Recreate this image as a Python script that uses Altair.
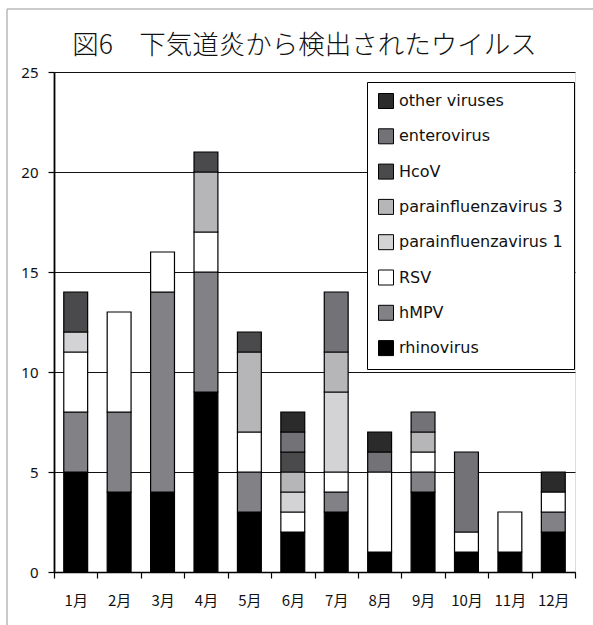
import altair as alt
import pandas as pd

# Monthly counts of viruses detected in lower respiratory tract infections
months = ["1月", "2月", "3月", "4月", "5月", "6月", "7月", "8月", "9月", "10月", "11月", "12月"]

rhinovirus = [5, 4, 4, 9, 3, 2, 3, 1, 4, 1, 1, 2]
hmpv = [3, 4, 10, 6, 2, 0, 1, 0, 1, 0, 0, 1]
rsv = [3, 5, 2, 2, 2, 1, 1, 4, 1, 1, 2, 1]
para1 = [1, 0, 0, 0, 0, 1, 4, 0, 0, 0, 0, 0]
para3 = [0, 0, 0, 3, 4, 1, 2, 0, 1, 0, 0, 0]
hcov = [2, 0, 0, 1, 1, 1, 0, 0, 0, 0, 0, 0]
enterovirus = [0, 0, 0, 0, 0, 1, 3, 1, 1, 4, 0, 0]
other = [0, 0, 0, 0, 0, 1, 0, 1, 0, 0, 0, 1]

# stacking order, bottom to top
series = [
    ("rhinovirus", rhinovirus, "#000000"),
    ("hMPV", hmpv, "#818186"),
    ("RSV", rsv, "#ffffff"),
    ("parainfluenzavirus 1", para1, "#d3d3d5"),
    ("parainfluenzavirus 3", para3, "#b6b6b8"),
    ("HcoV", hcov, "#4a4a4c"),
    ("enterovirus", enterovirus, "#737377"),
    ("other viruses", other, "#2b2b2b"),
]

rows = []
for k, (name, vals, _) in enumerate(series):
    for m, v in zip(months, vals):
        if v > 0:
            rows.append({"month": m, "virus": name, "count": v, "stack": k})
df = pd.DataFrame(rows)

# legend lists the top of the stack first
legend_domain = [s[0] for s in reversed(series)]
legend_range = [s[2] for s in reversed(series)]

bars = alt.Chart(df).mark_bar(
    width=alt.RelativeBandSize(0.55), stroke="#000000", strokeWidth=1.2
).encode(
    x=alt.X("month:N", sort=months, title=None,
            scale=alt.Scale(paddingInner=0, paddingOuter=0),
            axis=alt.Axis(labelAngle=0, tickBand="extent", tickSize=6,
                          labelPadding=15, labelFontSize=15,
                          labelFont="Noto Sans CJK JP", labelColor="#111111",
                          domainColor="#000000", domainWidth=1.5,
                          tickColor="#000000", tickWidth=1.2)),
    y=alt.Y("count:Q", stack="zero", title=None,
            scale=alt.Scale(domain=[0, 25], nice=False),
            axis=alt.Axis(values=[0, 5, 10, 15, 20, 25], tickSize=6,
                          labelPadding=10, labelFontSize=15,
                          labelFont="Noto Sans", labelColor="#111111",
                          grid=True, gridColor="#111111", gridWidth=1,
                          domainColor="#000000", domainWidth=1.8,
                          tickColor="#000000", tickWidth=1.2)),
    color=alt.Color("virus:N", title=None,
                    scale=alt.Scale(domain=legend_domain, range=legend_range),
                    legend=alt.Legend(orient="none", legendX=313, legendY=10,
                                      symbolType="square", symbolSize=225,
                                      symbolStrokeColor="#000000",
                                      symbolStrokeWidth=1,
                                      labelFontSize=16, labelFont="DejaVu Sans",
                                      labelColor="#111111", labelOffset=5,
                                      rowPadding=15.3, padding=11,
                                      strokeColor="#000000", fillColor="#ffffff",
                                      labelLimit=300)),
    order=alt.Order("stack:Q", sort="ascending"),
)

# light outer frame around the figure
frame_df = pd.DataFrame({"k": [0]})
frame_left = alt.Chart(frame_df).mark_rule(color="#b8b8b8", strokeWidth=1.5).encode(
    x=alt.value(-47), y=alt.value(-63), y2=alt.value(560))
frame_top = alt.Chart(frame_df).mark_rule(color="#b8b8b8", strokeWidth=1.5).encode(
    x=alt.value(-47), x2=alt.value(545), y=alt.value(-63))

chart = alt.layer(frame_left, frame_top, bars).properties(
    width=521,
    height=500,
    title=alt.TitleParams("図6　下気道炎から検出されたウイルス",
                          font="Noto Sans CJK JP", fontSize=26.5,
                          fontWeight=300, color="#111111",
                          anchor="middle", dx=-10, offset=-72,
                          baseline="alphabetic"),
    autosize=alt.AutoSizeParams(type="none"),
    padding={"left": 54, "top": 72, "right": 18, "bottom": 53},
).configure_view(
    stroke="#000000", strokeWidth=1.5
).configure(background="#ffffff")

chart.save("out.html", embed_options={"renderer": "svg", "actions": False})
